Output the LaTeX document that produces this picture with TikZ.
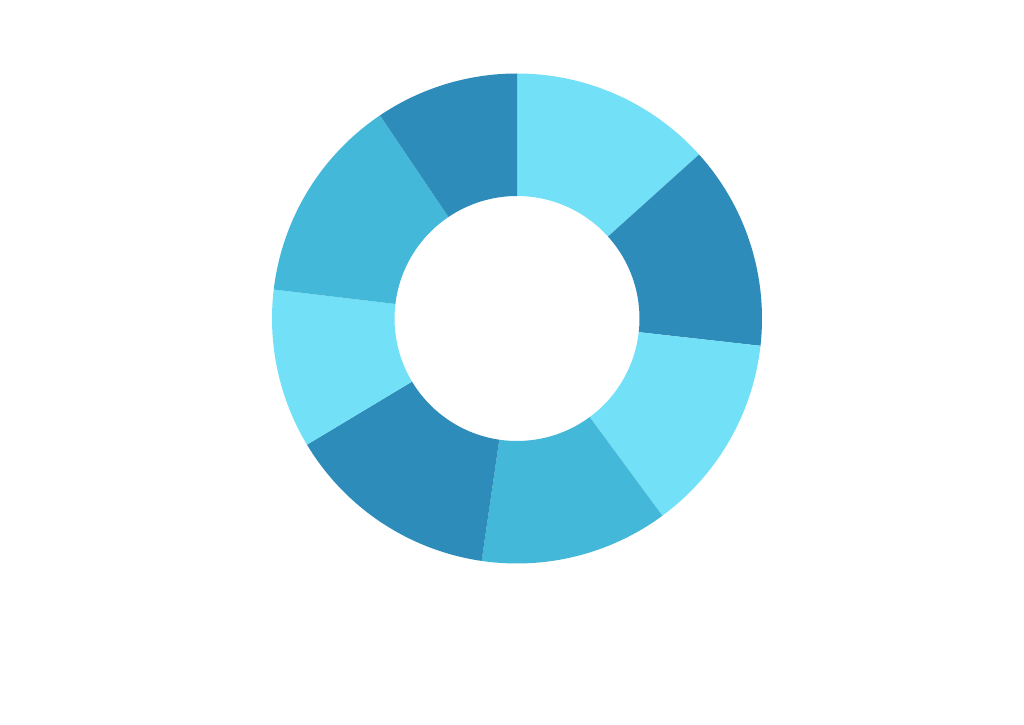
\documentclass[tikz,border=0pt]{standalone}
\definecolor{cLight}{HTML}{72E0F6}
\definecolor{cDark}{HTML}{2E8CBA}
\definecolor{cMid}{HTML}{43B8D8}
\tikzset{seg/.style={draw=none}}
\newcommand{\donutseg}[3]{%
  \fill[seg,#3] (517,405.5) ++(#1:245) arc[start angle=#1,end angle=#2,radius=245]
    -- ($(517,405.5)+(#2:122.5)$) arc[start angle=#2,end angle=#1,radius=122.5] -- cycle;}
\usetikzlibrary{calc}
\begin{document}
\begin{tikzpicture}[x=1pt,y=1pt]
\useasboundingbox (0,0) rectangle (1024,724);
\fill[white] (0,0) rectangle (1024,724);
\donutseg{90}{42}{cLight}
\donutseg{42}{-6.4}{cDark}
\donutseg{-6.4}{-53.6}{cLight}
\donutseg{-53.6}{-98.3}{cMid}
\donutseg{-98.3}{-149}{cDark}
\donutseg{-149}{-186.8}{cLight}
\donutseg{-186.8}{-236}{cMid}
\donutseg{-236}{-270}{cDark}
\end{tikzpicture}
\end{document}
